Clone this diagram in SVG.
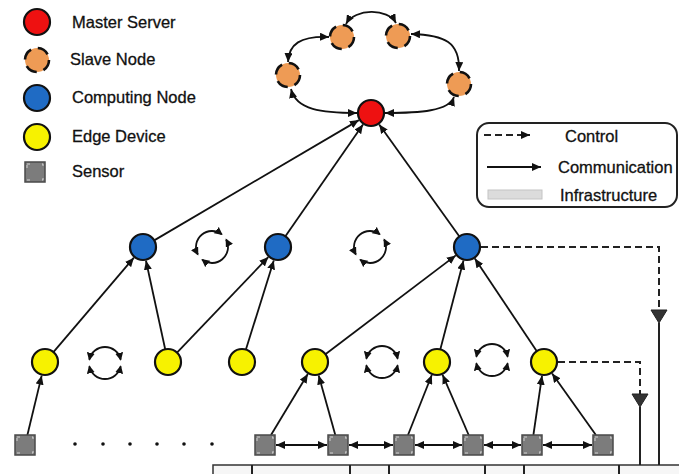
<svg xmlns="http://www.w3.org/2000/svg" width="679" height="474" viewBox="0 0 679 474">
  <style>
    .txt { font-family: "Liberation Sans", Arial, sans-serif; font-size: 16.5px; fill: #111; stroke: #111; stroke-width: 0.3; }
    .master { fill: #ee1111; stroke: #111; stroke-width: 2.2; }
    .slave { fill: #ee9b55; stroke: #111; stroke-width: 2.6; stroke-dasharray: 12 7; }
    .comp { fill: #1f6bc4; stroke: #111; stroke-width: 2.2; }
    .edge { fill: #f7f200; stroke: #111; stroke-width: 2.2; }
    .sensor { fill: #7c7c7c; stroke: #4a4a4a; stroke-width: 1.5; }
    .sensor-in { fill: none; stroke: #e8e8e8; stroke-width: 0.8; stroke-dasharray: 3 12; }
    .link { fill: none; stroke: #111; stroke-width: 1.8; marker-end: url(#arrow); }
    .dlink { fill: none; stroke: #111; stroke-width: 1.8; marker-start: url(#arrow); marker-end: url(#arrow); }
    .ctrl { fill: none; stroke: #222; stroke-width: 2; stroke-dasharray: 7 4; }
    .wire { fill: none; stroke: #222; stroke-width: 2; }
    .tri { fill: #333; stroke: #222; stroke-width: 1; }
    .cyc { fill: none; stroke: #111; stroke-width: 1.8; marker-start: url(#arrowS); marker-end: url(#arrowS); }
    .infra { fill: #f6f6f6; stroke: #333; stroke-width: 1.5; }
  </style>
  <defs>
    <marker id="arrow" markerUnits="userSpaceOnUse" markerWidth="10" markerHeight="8" refX="9" refY="4" orient="auto-start-reverse">
      <path d="M0,0 L9,4 L0,8 z" fill="#111"/>
    </marker>
    <marker id="arrowS" markerUnits="userSpaceOnUse" markerWidth="9" markerHeight="8" refX="7" refY="4" orient="auto-start-reverse">
      <path d="M0,0 L8,4 L0,8 z" fill="#111"/>
    </marker>
    <!-- two double-headed arcs forming a closed exchange loop -->
    <g id="cycle">
      <path class="cyc" d="M15.65,-3.33 A16,16 0 0 0 -15.65,-3.33"/>
      <path class="cyc" d="M-15.65,3.33 A16,16 0 0 0 15.65,3.33"/>
    </g>
    <g id="sensorShape">
      <rect class="sensor" x="-10" y="-10" width="20" height="20"/>
      <rect class="sensor-in" x="-8" y="-8" width="16" height="16"/>
    </g>
  </defs>

  <!-- legend: node types -->
  <g id="legend-nodes">
    <circle class="master" cx="37" cy="22" r="13"/>
    <text class="txt" x="72" y="28">Master Server</text>
    <circle class="slave" cx="37" cy="60" r="12"/>
    <text class="txt" x="70" y="65">Slave Node</text>
    <circle class="comp" cx="37" cy="98" r="13"/>
    <text class="txt" x="72" y="103">Computing Node</text>
    <circle class="edge" cx="37" cy="137" r="13"/>
    <text class="txt" x="72" y="142">Edge Device</text>
    <use href="#sensorShape" x="35" y="172"/>
    <text class="txt" x="72" y="177">Sensor</text>
  </g>

  <!-- legend: link types -->
  <g id="legend-links">
    <rect x="477" y="123" width="200" height="84" rx="12" fill="#fff" stroke="#222" stroke-width="2"/>
    <path class="ctrl" d="M484,135 H530" style="marker-end:url(#arrow)"/>
    <text class="txt" x="565" y="142">Control</text>
    <path class="link" d="M487,167 H541"/>
    <text class="txt" x="558" y="173">Communication</text>
    <rect x="488" y="190" width="54" height="9" fill="#dcdcdc" stroke="#c4c4c4" stroke-width="1"/>
    <text class="txt" x="560" y="201">Infrastructure</text>
  </g>

  <!-- infrastructure bar -->
  <g id="infrastructure">
    <rect class="infra" x="213" y="465" width="470" height="14"/>
    <path class="wire" d="M252,465 V474 M350,465 V474 M389,465 V474 M485,465 V474 M524,465 V474 M619,465 V474" stroke-width="1.5"/>
  </g>

  <!-- connectors -->
  <g id="connectors">
    <!-- slave ring around the master -->
    <path class="dlink" d="M346,24 C355,8 388,8 396,23"/>
    <path class="dlink" d="M329,37 C300,36 289,44 288,62"/>
    <path class="dlink" d="M411,34 C445,35 460,42 459,71"/>
    <path class="dlink" d="M291,89 C296,110 322,113 357,113"/>
    <path class="dlink" d="M454,97 C449,111 420,113 385,113"/>

    <!-- computing nodes to master -->
    <path class="link" d="M154.2,240.4 L358.9,120.1"/>
    <path class="link" d="M285.4,236.3 L363.0,124.5"/>
    <path class="link" d="M459.4,236.4 L379.2,124.4"/>

    <!-- edge devices to computing nodes -->
    <path class="link" d="M53.4,352.1 L133.9,257.7"/>
    <path class="link" d="M165.2,349.3 L146.0,260.7"/>
    <path class="link" d="M177.0,352.6 L268.3,257.1"/>
    <path class="link" d="M245.9,349.6 L273.8,260.4"/>
    <path class="link" d="M325.4,354.2 L455.8,255.4"/>
    <path class="link" d="M440.3,349.4 L463.5,260.6"/>
    <path class="link" d="M536.8,351.2 L474.8,258.6"/>

    <!-- sensors to edge devices -->
    <path class="link" d="M27.4,435 L41.7,375.6"/>
    <path class="link" d="M271.0,435 L307.8,374.0"/>
    <path class="link" d="M335.3,435 L318.7,375.5"/>
    <path class="link" d="M408.0,435 L431.8,375.0"/>
    <path class="link" d="M468.7,435 L442.6,374.8"/>
    <path class="link" d="M533.4,435 L542.0,375.8"/>
    <path class="link" d="M595.9,435 L552.1,373.4"/>

    <!-- sensor chain -->
    <path class="dlink" d="M276,445 H327"/>
    <path class="dlink" d="M349,445 H393"/>
    <path class="dlink" d="M415,445 H462"/>
    <path class="dlink" d="M484,445 H521"/>
    <path class="dlink" d="M543,445 H592"/>

    <!-- control paths to the infrastructure -->
    <path class="ctrl" d="M481,247 H659 V311"/>
    <polygon class="tri" points="651,310 667,310 659,323"/>
    <path class="wire" d="M659,323 V465"/>
    <path class="ctrl" d="M558,362 H640 V395"/>
    <polygon class="tri" points="632,394 648,394 640,407"/>
    <path class="wire" d="M640,407 V465"/>

    <!-- peer exchange cycles -->
    <use href="#cycle" transform="translate(212,247) rotate(-40)"/>
    <use href="#cycle" transform="translate(370,247) rotate(-40)"/>
    <use href="#cycle" transform="translate(105,363)"/>
    <use href="#cycle" transform="translate(382,362)"/>
    <use href="#cycle" transform="translate(492,360)"/>

    <!-- omitted sensors -->
    <g fill="#111">
      <circle cx="75" cy="444" r="1.8"/>
      <circle cx="103" cy="444" r="1.8"/>
      <circle cx="130" cy="444" r="1.8"/>
      <circle cx="157" cy="444" r="1.8"/>
      <circle cx="184" cy="444" r="1.8"/>
      <circle cx="212" cy="444" r="1.8"/>
    </g>
  </g>

  <!-- master and slave nodes -->
  <g id="master"><circle class="master" cx="371" cy="113" r="13"/></g>
  <g id="slave-1"><circle class="slave" cx="342" cy="37" r="12"/></g>
  <g id="slave-2"><circle class="slave" cx="398" cy="36" r="12"/></g>
  <g id="slave-3"><circle class="slave" cx="288" cy="75" r="12"/></g>
  <g id="slave-4"><circle class="slave" cx="459" cy="84" r="12"/></g>

  <!-- computing nodes -->
  <g id="computing-1"><circle class="comp" cx="143" cy="247" r="13"/></g>
  <g id="computing-2"><circle class="comp" cx="278" cy="247" r="13"/></g>
  <g id="computing-3"><circle class="comp" cx="467" cy="247" r="13"/></g>

  <!-- edge devices -->
  <g id="edge-1"><circle class="edge" cx="45" cy="362" r="13"/></g>
  <g id="edge-2"><circle class="edge" cx="168" cy="362" r="13"/></g>
  <g id="edge-3"><circle class="edge" cx="242" cy="362" r="13"/></g>
  <g id="edge-4"><circle class="edge" cx="315" cy="362" r="13"/></g>
  <g id="edge-5"><circle class="edge" cx="437" cy="362" r="13"/></g>
  <g id="edge-6"><circle class="edge" cx="544" cy="362" r="13"/></g>

  <!-- sensors -->
  <g id="sensor-1"><use href="#sensorShape" x="25" y="445"/></g>
  <g id="sensor-2"><use href="#sensorShape" x="265" y="445"/></g>
  <g id="sensor-3"><use href="#sensorShape" x="338" y="445"/></g>
  <g id="sensor-4"><use href="#sensorShape" x="404" y="445"/></g>
  <g id="sensor-5"><use href="#sensorShape" x="473" y="445"/></g>
  <g id="sensor-6"><use href="#sensorShape" x="532" y="445"/></g>
  <g id="sensor-7"><use href="#sensorShape" x="603" y="445"/></g>
</svg>
